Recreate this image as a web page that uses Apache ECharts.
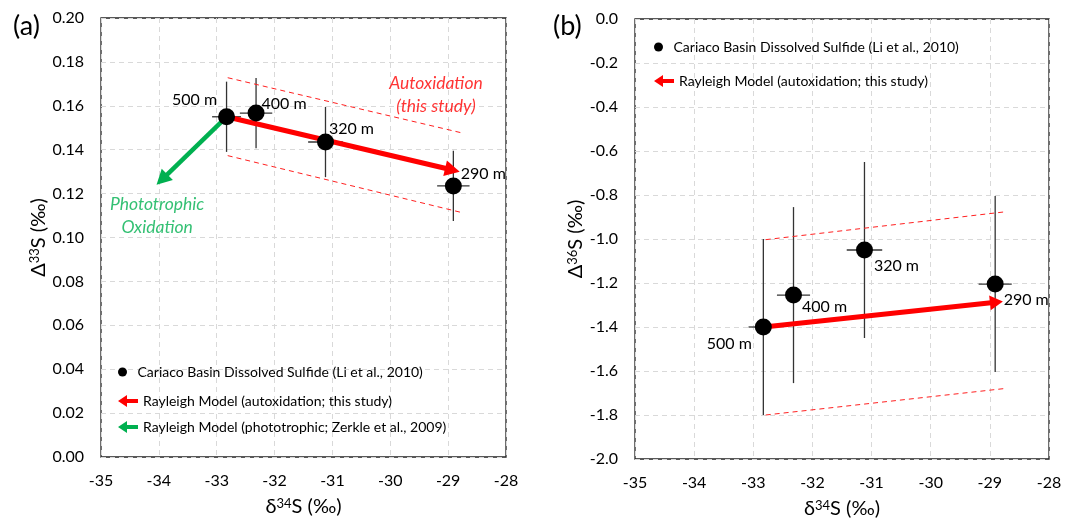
<!DOCTYPE html>
<html>
<head>
<meta charset="utf-8">
<script src="https://cdn.jsdelivr.net/npm/echarts@6/dist/echarts.min.js"></script>
<style>
html,body{margin:0;padding:0;background:#fff;}
#chart{width:1070px;height:520px;}
</style>
</head>
<body>
<div id="chart"></div>
<script>
// Cariaco Basin samples (depth labels)
var depthLabels = ['500 m', '400 m', '320 m', '290 m'];
var d34S = [-32.83, -32.32, -31.12, -28.91];
var d34Serr = [0.25, 0.28, 0.30, 0.28];
var D33S = [0.155, 0.1567, 0.1435, 0.1235];
var D33Serr = [0.016, 0.016, 0.016, 0.016];
var D36S = [-1.40, -1.255, -1.05, -1.205];
var D36Serr = [0.40, 0.40, 0.40, 0.40];

// model arrows: [x start, y start, x tip, y tip]
var autoxArrowA = [-32.83, 0.155, -28.80, 0.130];
var photoArrowA = [-32.83, 0.155, -34.04, 0.124];
var autoxArrowB = [-32.82, -1.40, -28.78, -1.284];

// dashed envelopes of the autoxidation model
var envUpperA = [[-32.81, 0.1728], [-28.77, 0.1477]];
var envLowerA = [[-32.81, 0.1373], [-28.77, 0.1114]];
var envUpperB = [[-32.79, -1.003], [-28.76, -0.877]];
var envLowerB = [[-32.79, -1.800], [-28.76, -1.680]];

// axes
var xRange = [-35, -28, 1];
var yRangeA = [0, 0.2, 0.02];
var yRangeB = [-2, 0, 0.2];

var nameLi = 'Cariaco Basin Dissolved Sulfide (Li et al., 2010)';
var nameAuto = 'Rayleigh Model (autoxidation; this study)';
var namePhoto = 'Rayleigh Model (phototrophic; Zerkle et al., 2009)';

// label offsets (px) for the depth labels
var offA = [[-32, -17], [28, -9], [26, -13], [30, -12]];
var offB = [[-34, 17], [31, 12], [32, 16], [31, 16]];

var FONT = 'Lato';
var GREEN = '#00b050';
var arrowIcon = 'path://M0,6L9,0L9,4L20,4L20,8L9,8L9,12Z';

var chart = echarts.init(document.getElementById('chart'));

function errBars(params, api) {
  var x = api.value(0), y = api.value(1), ex = api.value(2), ey = api.value(3);
  var l = api.coord([x - ex, y]), r = api.coord([x + ex, y]);
  var t = api.coord([x, y + ey]), b = api.coord([x, y - ey]);
  var st = {stroke: '#333', lineWidth: 1.3};
  return {type: 'group', children: [
    {type: 'line', shape: {x1: l[0], y1: l[1], x2: r[0], y2: r[1]}, style: st},
    {type: 'line', shape: {x1: t[0], y1: t[1], x2: b[0], y2: b[1]}, style: st}
  ]};
}

function arrow(color, width, headLen, headHalf) {
  return function (params, api) {
    var p0 = api.coord([api.value(0), api.value(1)]);
    var p1 = api.coord([api.value(2), api.value(3)]);
    var dx = p1[0] - p0[0], dy = p1[1] - p0[1];
    var len = Math.sqrt(dx * dx + dy * dy);
    var ux = dx / len, uy = dy / len;
    var bx = p1[0] - ux * headLen, by = p1[1] - uy * headLen;
    return {type: 'group', children: [
      {type: 'line', shape: {x1: p0[0], y1: p0[1], x2: bx + ux, y2: by + uy},
        style: {stroke: color, lineWidth: width}},
      {type: 'polygon', shape: {points: [[p1[0], p1[1]],
        [bx - uy * headHalf, by + ux * headHalf], [bx + uy * headHalf, by - ux * headHalf]]},
        style: {fill: color}}
    ]};
  };
}

function pts(xs, ys, offs) {
  return xs.map(function (x, i) {
    return {value: [x, ys[i]], label: {offset: offs[i]}};
  });
}
function errs(xs, ys, exs, eys) {
  return xs.map(function (x, i) { return [x, ys[i], exs[i], eys[i]]; });
}

var nameRich = {
  t: {fontSize: 20, fontFamily: FONT, color: '#000'},
  s: {fontSize: 13, fontFamily: FONT, color: '#000', verticalAlign: 'top', lineHeight: 13}
};

function xAxis(gi) {
  return {
    gridIndex: gi, type: 'value', min: xRange[0], max: xRange[1], interval: xRange[2],
    name: '{t|δ}{s|34}{t|S (‰)}', nameLocation: 'middle', nameGap: 40,
    nameTextStyle: {rich: nameRich},
    axisLine: {show: false}, axisTick: {show: false},
    axisLabel: {fontSize: 16, fontFamily: FONT, color: '#000', margin: 16},
    splitLine: {show: true, lineStyle: {color: '#d9d9d9', type: [5, 4]}}
  };
}
function yAxis(gi, rng, dec, sup, gap) {
  return {
    gridIndex: gi, type: 'value', min: rng[0], max: rng[1], interval: rng[2],
    name: '{t|Δ}{s|' + sup + '}{t|S (‰)}', nameLocation: 'middle', nameGap: gap, nameRotate: 90,
    nameTextStyle: {rich: nameRich},
    axisLine: {show: false}, axisTick: {show: false},
    axisLabel: {fontSize: 16, fontFamily: FONT, color: '#000', margin: 17,
      formatter: function (v) { return v.toFixed(dec); }},
    splitLine: {show: true, lineStyle: {color: '#d9d9d9', type: [5, 4]}}
  };
}

var labelStyle = {show: true, position: 'inside', fontSize: 16, fontFamily: FONT, color: '#000',
  formatter: function (p) { return depthLabels[p.dataIndex]; }};

function noteSeries(xi, pos, text, color) {
  return {
    type: 'scatter', xAxisIndex: xi, yAxisIndex: xi, symbolSize: 0, silent: true, z: 6,
    data: [pos],
    label: {show: true, position: 'inside', formatter: text, color: color, fontSize: 17.5,
      fontStyle: 'italic', fontFamily: FONT, lineHeight: 23, align: 'center'}
  };
}

var legendText = {fontSize: 14, fontFamily: FONT, color: '#000'};
var panelTitle = {fontSize: 27, fontWeight: 'normal', fontFamily: FONT, color: '#000'};

var option = {
  animation: false,
  backgroundColor: '#fff',
  title: [
    {text: '(a)', left: 8, top: 8, textStyle: panelTitle},
    {text: '(b)', left: 548, top: 8, textStyle: panelTitle}
  ],
  grid: [
    {left: 101, right: 564, top: 18, bottom: 63, show: true, borderColor: '#222', borderWidth: 1.3,
      outerBoundsMode: 'none'},
    {left: 635, right: 21, top: 19, bottom: 61, show: true, borderColor: '#222', borderWidth: 1.3,
      outerBoundsMode: 'none'}
  ],
  legend: [
    {left: 113, top: 360, itemWidth: 20, itemHeight: 9, textStyle: legendText, selectedMode: false,
      data: [{name: nameLi, icon: 'circle'}]},
    {left: 113, top: 389, orient: 'vertical', itemWidth: 20, itemHeight: 12, itemGap: 12,
      textStyle: legendText, selectedMode: false,
      data: [{name: nameAuto, icon: arrowIcon}, {name: namePhoto, icon: arrowIcon}]},
    {left: 649, top: 35, itemWidth: 20, itemHeight: 9, textStyle: legendText, selectedMode: false,
      data: [{name: nameLi, icon: 'circle'}]},
    {left: 649, top: 69, itemWidth: 20, itemHeight: 12, textStyle: legendText, selectedMode: false,
      data: [{name: nameAuto, icon: arrowIcon}]}
  ],
  xAxis: [xAxis(0), xAxis(1)],
  yAxis: [yAxis(0, yRangeA, 2, '33', 50), yAxis(1, yRangeB, 1, '36', 46)],
  series: [
    // panel (a)
    {type: 'custom', name: 'errA', xAxisIndex: 0, yAxisIndex: 0, z: 2, silent: true,
      renderItem: errBars, data: errs(d34S, D33S, d34Serr, D33Serr)},
    {type: 'line', xAxisIndex: 0, yAxisIndex: 0, z: 3, symbol: 'none', silent: true,
      lineStyle: {color: '#ff2020', width: 1, type: [5, 4]}, data: envUpperA},
    {type: 'line', xAxisIndex: 0, yAxisIndex: 0, z: 3, symbol: 'none', silent: true,
      lineStyle: {color: '#ff2020', width: 1, type: [5, 4]}, data: envLowerA},
    {type: 'custom', name: nameAuto, xAxisIndex: 0, yAxisIndex: 0, z: 4, itemStyle: {color: '#ff0000'},
      renderItem: arrow('#ff0000', 5, 15, 8), encode: {x: [0, 2], y: [1, 3]}, data: [autoxArrowA]},
    {type: 'custom', name: namePhoto, xAxisIndex: 0, yAxisIndex: 0, z: 4, itemStyle: {color: GREEN},
      renderItem: arrow(GREEN, 4.5, 15, 8), encode: {x: [0, 2], y: [1, 3]}, data: [photoArrowA]},
    {type: 'scatter', name: nameLi, xAxisIndex: 0, yAxisIndex: 0, z: 5, symbolSize: 17,
      itemStyle: {color: '#000', opacity: 1}, label: labelStyle, data: pts(d34S, D33S, offA)},
    noteSeries(0, [-29.21, 0.1652], 'Autoxidation\n(this study)', '#ff0000'),
    noteSeries(0, [-34.03, 0.1100], 'Phototrophic\nOxidation', GREEN),
    // panel (b)
    {type: 'custom', name: 'errB', xAxisIndex: 1, yAxisIndex: 1, z: 2, silent: true,
      renderItem: errBars, data: errs(d34S, D36S, d34Serr, D36Serr)},
    {type: 'line', xAxisIndex: 1, yAxisIndex: 1, z: 3, symbol: 'none', silent: true,
      lineStyle: {color: '#ff2020', width: 1, type: [5, 4]}, data: envUpperB},
    {type: 'line', xAxisIndex: 1, yAxisIndex: 1, z: 3, symbol: 'none', silent: true,
      lineStyle: {color: '#ff2020', width: 1, type: [5, 4]}, data: envLowerB},
    {type: 'custom', name: nameAuto, xAxisIndex: 1, yAxisIndex: 1, z: 4, itemStyle: {color: '#ff0000'},
      renderItem: arrow('#ff0000', 5, 13, 7.5), encode: {x: [0, 2], y: [1, 3]}, data: [autoxArrowB]},
    {type: 'scatter', name: nameLi, xAxisIndex: 1, yAxisIndex: 1, z: 5, symbolSize: 17,
      itemStyle: {color: '#000', opacity: 1}, label: labelStyle, data: pts(d34S, D36S, offB)}
  ]
};

chart.setOption(option);
</script>
</body>
</html>
